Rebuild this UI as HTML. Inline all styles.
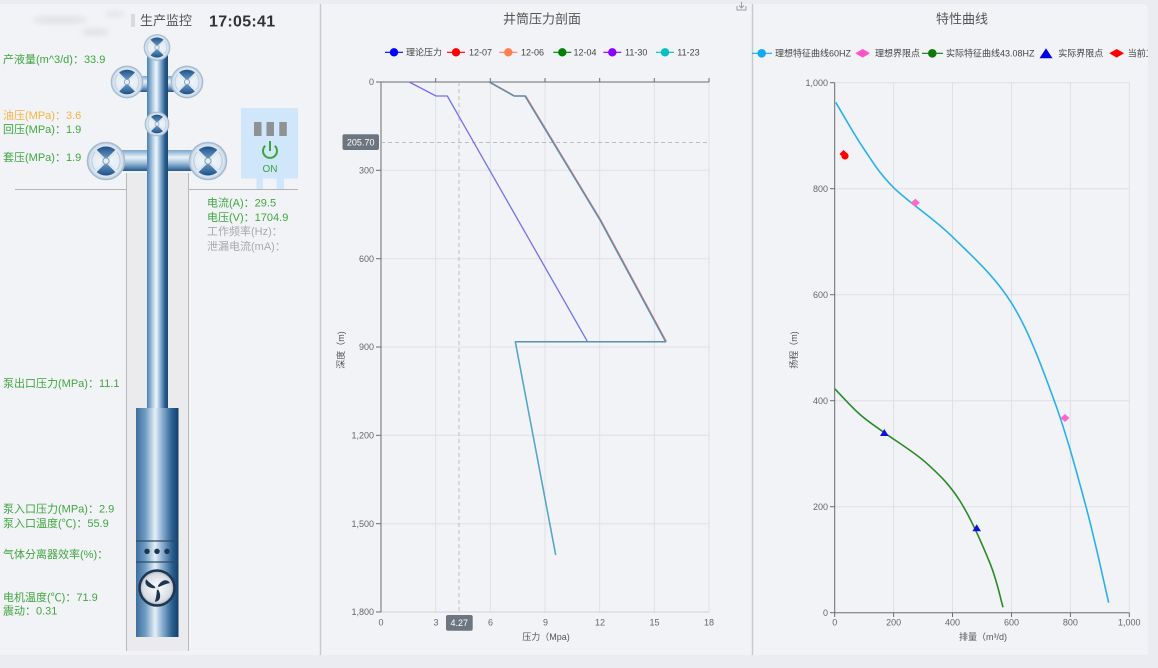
<!DOCTYPE html>
<html>
<head>
<meta charset="utf-8">
<style>
html,body{margin:0;padding:0;background:#eaecf2;}
svg{display:block;font-family:"Liberation Sans","Noto Sans CJK SC",sans-serif;}
</style>
</head>
<body>
<svg width="1158" height="668" viewBox="0 0 1158 668" xmlns="http://www.w3.org/2000/svg">
<defs>
  <linearGradient id="pipeV" x1="0" y1="0" x2="1" y2="0">
    <stop offset="0" stop-color="#4a7eae"/>
    <stop offset="0.28" stop-color="#b4cfe6"/>
    <stop offset="0.45" stop-color="#f0f5fa"/>
    <stop offset="0.62" stop-color="#93b7d8"/>
    <stop offset="0.85" stop-color="#2a5f92"/>
    <stop offset="1" stop-color="#1c4670"/>
  </linearGradient>
  <linearGradient id="pipeH" x1="0" y1="0" x2="0" y2="1">
    <stop offset="0" stop-color="#7aa5cc"/>
    <stop offset="0.35" stop-color="#eaf2f9"/>
    <stop offset="0.6" stop-color="#a5c3de"/>
    <stop offset="1" stop-color="#22598c"/>
  </linearGradient>
  <linearGradient id="pump" x1="0" y1="0" x2="1" y2="0">
    <stop offset="0" stop-color="#3d6e9b"/>
    <stop offset="0.22" stop-color="#6f9cc4"/>
    <stop offset="0.45" stop-color="#e6eff7"/>
    <stop offset="0.6" stop-color="#93b6d5"/>
    <stop offset="0.85" stop-color="#2a5f8f"/>
    <stop offset="1" stop-color="#123f6b"/>
  </linearGradient>
  <radialGradient id="valveBg" cx="0.5" cy="0.5" r="0.5">
    <stop offset="0" stop-color="#f4f8fb"/>
    <stop offset="0.8" stop-color="#e2eaf2"/>
    <stop offset="1" stop-color="#bdd0e2"/>
  </radialGradient>
  <linearGradient id="wedge" x1="0" y1="0" x2="0" y2="1">
    <stop offset="0" stop-color="#1d5288"/>
    <stop offset="1" stop-color="#7aa6cf"/>
  </linearGradient>
  <linearGradient id="wedge2" x1="0" y1="0" x2="0" y2="1">
    <stop offset="0" stop-color="#7aa6cf"/>
    <stop offset="1" stop-color="#1d5288"/>
  </linearGradient>
  <radialGradient id="fanBg" cx="0.5" cy="0.5" r="0.5">
    <stop offset="0" stop-color="#ffffff"/>
    <stop offset="0.8" stop-color="#d7dde3"/>
    <stop offset="1" stop-color="#9aa6b2"/>
  </radialGradient>
  <symbol id="valve" viewBox="-20 -20 40 40">
    <circle cx="0" cy="0" r="19" fill="url(#valveBg)" stroke="#a5bcd0" stroke-width="1.6"/>
    <circle cx="0" cy="0" r="14.5" fill="none" stroke="#bccdde" stroke-width="1.2"/>
    <path d="M-10.5,-10.5 A14.8,14.8 0 0 1 10.5,-10.5 L0,0 Z" fill="url(#wedge)"/>
    <path d="M-10.5,10.5 A14.8,14.8 0 0 0 10.5,10.5 L0,0 Z" fill="url(#wedge2)"/>
    <line x1="-11" y1="-11" x2="11" y2="11" stroke="#dce7f1" stroke-width="2.6"/>
    <line x1="11" y1="-11" x2="-11" y2="11" stroke="#dce7f1" stroke-width="2.6"/>
    <circle cx="0" cy="0" r="3.2" fill="#e6eef5" stroke="#7a9bb9" stroke-width="1"/>
  </symbol>
  <filter id="blur" x="-50%" y="-50%" width="200%" height="200%"><feGaussianBlur stdDeviation="3"/></filter>
  <clipPath id="rightClip"><rect x="752" y="0" width="396" height="668"/></clipPath>
</defs>

<!-- background panels -->
<rect x="0" y="0" width="1158" height="668" fill="#eaecf2"/>
<rect x="0" y="4" width="320" height="651" fill="#f2f3f7"/>
<rect x="320" y="4" width="432" height="651" fill="#f2f3f7"/>
<path d="M752,4 H1142 Q1148,4 1148,10 V655 H752 Z" fill="#f2f3f7"/>
<line x1="320.5" y1="4" x2="320.5" y2="655" stroke="#c9cacf" stroke-width="1.5"/>
<line x1="752.5" y1="4" x2="752.5" y2="655" stroke="#c9cacf" stroke-width="1.5"/>

<!-- ================= LEFT PANEL ================= -->
<g filter="url(#blur)" opacity="0.55">
  <ellipse cx="60" cy="20" rx="28" ry="4" fill="#d2d4d9"/>
  <ellipse cx="95" cy="32" rx="14" ry="3" fill="#c9ccd2"/>
  <ellipse cx="115" cy="14" rx="10" ry="3" fill="#d4d6db"/>
</g>
<rect x="131" y="14" width="4" height="13" fill="#d8dadf"/>
<text x="140" y="25" font-size="13" fill="#555">生产监控</text>
<text x="209" y="26.5" font-size="16" font-weight="bold" fill="#333" letter-spacing="0.3">17:05:41</text>

<!-- ground line -->
<line x1="15" y1="189.5" x2="126" y2="189.5" stroke="#b3b5ba" stroke-width="1"/>
<line x1="188.5" y1="189.5" x2="298" y2="189.5" stroke="#b3b5ba" stroke-width="1"/>

<!-- casing -->
<rect x="126" y="173" width="62.5" height="478" fill="#ebebee"/>
<line x1="126.5" y1="173" x2="126.5" y2="651" stroke="#b8babe" stroke-width="1"/>
<line x1="188.5" y1="173" x2="188.5" y2="651" stroke="#b8babe" stroke-width="1"/>

<!-- pipes -->
<rect x="127" y="76" width="60" height="16" fill="url(#pipeH)"/>
<rect x="106" y="150" width="102" height="21" fill="url(#pipeH)"/>
<rect x="147" y="45" width="21" height="364" fill="url(#pipeV)"/>

<!-- valves -->
<use href="#valve" x="143.5" y="34" width="27" height="27"/>
<use href="#valve" x="110.5" y="65.5" width="33" height="33"/>
<use href="#valve" x="170.5" y="65.5" width="33" height="33"/>
<use href="#valve" x="144.5" y="111.5" width="25" height="25"/>
<use href="#valve" x="86.5" y="141.5" width="39" height="39"/>
<use href="#valve" x="188.5" y="141.5" width="39" height="39"/>

<!-- pump -->
<rect x="136" y="408" width="42.5" height="229" fill="url(#pump)"/>
<line x1="136" y1="541" x2="178.5" y2="541" stroke="#2b4a66" stroke-width="1.2"/>
<line x1="136" y1="562" x2="178.5" y2="562" stroke="#2b4a66" stroke-width="1.2"/>
<circle cx="147" cy="551.3" r="2.7" fill="#1c3550"/>
<circle cx="157" cy="551.3" r="2.7" fill="#1c3550"/>
<circle cx="167" cy="551.3" r="2.7" fill="#1c3550"/>
<circle cx="157" cy="588" r="17.5" fill="url(#fanBg)" stroke="#1f3550" stroke-width="2.5"/>
<g transform="translate(157,588)" fill="#1f3550">
  <path d="M0,0 C2,-6 9,-11 13,-5 C8,-4 4,-2 0,0 Z"/>
  <path d="M0,0 C2,-6 9,-11 13,-5 C8,-4 4,-2 0,0 Z" transform="rotate(120)"/>
  <path d="M0,0 C2,-6 9,-11 13,-5 C8,-4 4,-2 0,0 Z" transform="rotate(240)"/>
  <circle cx="0" cy="0" r="2" fill="#dfe4ea"/>
</g>

<!-- power box -->
<rect x="241" y="108" width="57" height="70.5" fill="#cfe6fb"/>
<rect x="256.5" y="178" width="6.5" height="11" fill="#cfe6fb"/>
<rect x="276.5" y="178" width="7.5" height="11" fill="#cfe6fb"/>
<rect x="254" y="122" width="7.5" height="14" fill="#8f9294"/>
<rect x="266.5" y="122" width="7.5" height="14" fill="#8f9294"/>
<rect x="279.3" y="122" width="7.5" height="14" fill="#8f9294"/>
<path d="M265.2,145.8 A7,7 0 1 0 274.8,145.8" fill="none" stroke="#3aa53a" stroke-width="2"/>
<line x1="270" y1="141" x2="270" y2="151" stroke="#3aa53a" stroke-width="2"/>
<text x="270" y="172" font-size="10" fill="#3aa53a" text-anchor="middle">ON</text>

<!-- left texts -->
<g font-size="11" fill="#3fa63f">
  <text x="3" y="63">产液量(m^3/d)：33.9</text>
  <text x="3" y="119" fill="#f3b540">油压(MPa)：3.6</text>
  <text x="3" y="133">回压(MPa)：1.9</text>
  <text x="3" y="161">套压(MPa)：1.9</text>
  <text x="207" y="206.5">电流(A)：29.5</text>
  <text x="207" y="221">电压(V)：1704.9</text>
  <text x="207" y="235" fill="#a9a9ab">工作频率(Hz)：</text>
  <text x="207" y="250" fill="#a9a9ab">泄漏电流(mA)：</text>
  <text x="3" y="387">泵出口压力(MPa)：11.1</text>
  <text x="3" y="512.5">泵入口压力(MPa)：2.9</text>
  <text x="3" y="527">泵入口温度(℃)：55.9</text>
  <text x="3" y="558">气体分离器效率(%)：</text>
  <text x="3" y="601">电机温度(℃)：71.9</text>
  <text x="3" y="614.5">震动：0.31</text>
</g>

<!-- ================= MIDDLE CHART ================= -->
<text x="542" y="23.5" font-size="13" fill="#555" text-anchor="middle">井筒压力剖面</text>
<g stroke="#9a9ca0" stroke-width="1" fill="none">
  <path d="M737,6 V10 H746 V6"/>
  <path d="M741.5,2 V8 M739,5.5 L741.5,8 L744,5.5"/>
</g>

<!-- legend -->
<g font-size="9" fill="#444">
  <line x1="385" y1="52.3" x2="403" y2="52.3" stroke="#0000ff" stroke-width="1.2"/>
  <circle cx="394" cy="52.3" r="4.2" fill="#0000ff"/>
  <text x="406" y="55.5">理论压力</text>
  <line x1="447" y1="52.3" x2="465" y2="52.3" stroke="#ff0000" stroke-width="1.2"/>
  <circle cx="456" cy="52.3" r="4.2" fill="#ff0000"/>
  <text x="469" y="55.5">12-07</text>
  <line x1="499.3" y1="52.3" x2="517.3" y2="52.3" stroke="#ff7f50" stroke-width="1.2"/>
  <circle cx="508.3" cy="52.3" r="4.2" fill="#ff7f50"/>
  <text x="521" y="55.5">12-06</text>
  <line x1="553.3" y1="52.3" x2="571.3" y2="52.3" stroke="#008000" stroke-width="1.2"/>
  <circle cx="562.3" cy="52.3" r="4.2" fill="#008000"/>
  <text x="573.5" y="55.5">12-04</text>
  <line x1="603.3" y1="52.3" x2="621.3" y2="52.3" stroke="#8a00ff" stroke-width="1.2"/>
  <circle cx="612.3" cy="52.3" r="4.2" fill="#8a00ff"/>
  <text x="625" y="55.5">11-30</text>
  <line x1="656" y1="52.3" x2="674" y2="52.3" stroke="#00c0c0" stroke-width="1.2"/>
  <circle cx="665" cy="52.3" r="4.2" fill="#00c0c0"/>
  <text x="677.3" y="55.5">11-23</text>
</g>

<!-- grid -->
<g stroke="#dfe0e6" stroke-width="1">
  <line x1="435.7" y1="82" x2="435.7" y2="612"/>
  <line x1="490.3" y1="82" x2="490.3" y2="612"/>
  <line x1="545" y1="82" x2="545" y2="612"/>
  <line x1="599.7" y1="82" x2="599.7" y2="612"/>
  <line x1="654.3" y1="82" x2="654.3" y2="612"/>
  <line x1="709" y1="82" x2="709" y2="612"/>
  <line x1="381" y1="170.3" x2="709" y2="170.3"/>
  <line x1="381" y1="258.7" x2="709" y2="258.7"/>
  <line x1="381" y1="347" x2="709" y2="347"/>
  <line x1="381" y1="435.3" x2="709" y2="435.3"/>
  <line x1="381" y1="523.7" x2="709" y2="523.7"/>
  <line x1="381" y1="612" x2="709" y2="612" stroke="#d0d1d6"/>
</g>
<line x1="381" y1="82" x2="709" y2="82" stroke="#6a6c70" stroke-width="1"/>
<line x1="381" y1="82" x2="381" y2="612" stroke="#6a6c70" stroke-width="1"/>
<g stroke="#6a6c70" stroke-width="1">
  <line x1="376" y1="82" x2="381" y2="82"/>
  <line x1="376" y1="170.3" x2="381" y2="170.3"/>
  <line x1="376" y1="258.7" x2="381" y2="258.7"/>
  <line x1="376" y1="347" x2="381" y2="347"/>
  <line x1="376" y1="435.3" x2="381" y2="435.3"/>
  <line x1="376" y1="523.7" x2="381" y2="523.7"/>
  <line x1="376" y1="612" x2="381" y2="612"/>
  <line x1="435.7" y1="78" x2="435.7" y2="82"/>
  <line x1="490.3" y1="78" x2="490.3" y2="82"/>
  <line x1="545" y1="78" x2="545" y2="82"/>
  <line x1="599.7" y1="78" x2="599.7" y2="82"/>
  <line x1="654.3" y1="78" x2="654.3" y2="82"/>
  <line x1="709" y1="78" x2="709" y2="82"/>
</g>
<g font-size="9" fill="#666" text-anchor="end">
  <text x="374" y="85">0</text>
  <text x="374" y="173.5">300</text>
  <text x="374" y="262">600</text>
  <text x="374" y="350">900</text>
  <text x="374" y="438.5">1,200</text>
  <text x="374" y="527">1,500</text>
  <text x="374" y="615">1,800</text>
</g>
<g font-size="9" fill="#666" text-anchor="middle">
  <text x="381" y="625.5">0</text>
  <text x="436" y="625.5">3</text>
  <text x="490.5" y="625.5">6</text>
  <text x="545.5" y="625.5">9</text>
  <text x="600" y="625.5">12</text>
  <text x="654.5" y="625.5">15</text>
  <text x="709" y="625.5">18</text>
</g>
<text x="546" y="640" font-size="9" fill="#555" text-anchor="middle">压力（Mpa)</text>
<text x="344" y="350" font-size="9" fill="#555" text-anchor="middle" transform="rotate(-90,344,350)">深度（m)</text>

<!-- crosshair -->
<line x1="381" y1="142.5" x2="709" y2="142.5" stroke="#bdbec3" stroke-width="1" stroke-dasharray="4,3"/>
<line x1="459" y1="82" x2="459" y2="612" stroke="#bdbec3" stroke-width="1" stroke-dasharray="4,3"/>

<!-- series -->
<path d="M409.2,82 L436,96 L447.3,96 L587.5,341.7 L515.3,341.7" fill="none" stroke="#7171ee" stroke-width="1.3" stroke-linejoin="round"/>
<path d="M489.9,82 L514.8,96 L525.8,96 L600.8,220 L666.4,341.7" fill="none" stroke="#ef6a6a" stroke-width="1.2" stroke-linejoin="round"/>
<path d="M489.1,82 L514,96 L525,96 L600,220 L665.6,341.7 L515.3,341.7 L555.7,555" fill="none" stroke="#5992ad" stroke-width="1.5" stroke-linejoin="round"/>
<path d="M515.3,341.7 L555.7,555" fill="none" stroke="#43b6d8" stroke-width="0.7"/>

<rect x="342.5" y="134.3" width="36.5" height="15.7" rx="2" fill="#6d7680"/>
<text x="360.7" y="145.5" font-size="9" fill="#fff" text-anchor="middle">205.70</text>
<rect x="446" y="615" width="26.7" height="15.7" rx="2" fill="#6d7680"/>
<text x="459.3" y="626" font-size="9" fill="#fff" text-anchor="middle">4.27</text>

<!-- ================= RIGHT CHART ================= -->
<g clip-path="url(#rightClip)">
<text x="962" y="23.5" font-size="13" fill="#555" text-anchor="middle">特性曲线</text>

<g font-size="9" fill="#444">
  <line x1="752" y1="53.3" x2="772" y2="53.3" stroke="#12a8f5" stroke-width="1.2"/>
  <circle cx="761.7" cy="53.3" r="4.3" fill="#12a8f5"/>
  <text x="775" y="56.5">理想特征曲线60HZ</text>
  <path d="M855.3,53.3 L862.7,49 L870,53.3 L862.7,57.6 Z" fill="#ff52c8"/>
  <text x="875" y="56.5">理想界限点</text>
  <line x1="922" y1="53.3" x2="943" y2="53.3" stroke="#0b7a0b" stroke-width="1.2"/>
  <circle cx="932.3" cy="53.3" r="4.3" fill="#0b7a0b"/>
  <text x="946" y="56.5">实际特征曲线43.08HZ</text>
  <path d="M1039.5,58.3 L1046,48.3 L1052.5,58.3 Z" fill="#0000e6"/>
  <text x="1058.3" y="56.5">实际界限点</text>
  <path d="M1109.3,53.3 L1116.7,49 L1124,53.3 L1116.7,57.6 Z" fill="#ff0000"/>
  <text x="1127.7" y="56.5">当前工况点</text>
</g>

<g stroke="#dfe0e6" stroke-width="1">
  <line x1="893.6" y1="82.7" x2="893.6" y2="612.7"/>
  <line x1="952.5" y1="82.7" x2="952.5" y2="612.7"/>
  <line x1="1011.5" y1="82.7" x2="1011.5" y2="612.7"/>
  <line x1="1070.4" y1="82.7" x2="1070.4" y2="612.7"/>
  <line x1="1129.3" y1="82.7" x2="1129.3" y2="612.7"/>
  <line x1="834.7" y1="82.7" x2="1129.3" y2="82.7"/>
  <line x1="834.7" y1="188.7" x2="1129.3" y2="188.7"/>
  <line x1="834.7" y1="294.7" x2="1129.3" y2="294.7"/>
  <line x1="834.7" y1="400.7" x2="1129.3" y2="400.7"/>
  <line x1="834.7" y1="506.7" x2="1129.3" y2="506.7"/>
</g>
<line x1="834.7" y1="82.7" x2="834.7" y2="612.7" stroke="#6a6c70" stroke-width="1"/>
<line x1="834.7" y1="612.7" x2="1129.3" y2="612.7" stroke="#6a6c70" stroke-width="1"/>
<g stroke="#6a6c70" stroke-width="1">
  <line x1="830" y1="82.7" x2="834.7" y2="82.7"/>
  <line x1="830" y1="188.7" x2="834.7" y2="188.7"/>
  <line x1="830" y1="294.7" x2="834.7" y2="294.7"/>
  <line x1="830" y1="400.7" x2="834.7" y2="400.7"/>
  <line x1="830" y1="506.7" x2="834.7" y2="506.7"/>
  <line x1="830" y1="612.7" x2="834.7" y2="612.7"/>
  <line x1="834.7" y1="612.7" x2="834.7" y2="617"/>
  <line x1="893.6" y1="612.7" x2="893.6" y2="617"/>
  <line x1="952.5" y1="612.7" x2="952.5" y2="617"/>
  <line x1="1011.5" y1="612.7" x2="1011.5" y2="617"/>
  <line x1="1070.4" y1="612.7" x2="1070.4" y2="617"/>
  <line x1="1129.3" y1="612.7" x2="1129.3" y2="617"/>
</g>
<g font-size="9" fill="#666" text-anchor="end">
  <text x="828" y="86">1,000</text>
  <text x="828" y="192">800</text>
  <text x="828" y="298">600</text>
  <text x="828" y="404">400</text>
  <text x="828" y="510">200</text>
  <text x="828" y="616">0</text>
</g>
<g font-size="9" fill="#666" text-anchor="middle">
  <text x="834.7" y="625.5">0</text>
  <text x="893.6" y="625.5">200</text>
  <text x="952.5" y="625.5">400</text>
  <text x="1011.5" y="625.5">600</text>
  <text x="1070.4" y="625.5">800</text>
  <text x="1129.3" y="625.5">1,000</text>
</g>
<text x="983" y="640" font-size="9" fill="#555" text-anchor="middle">排量（m³/d)</text>
<text x="797" y="350" font-size="9" fill="#555" text-anchor="middle" transform="rotate(-90,797,350)">扬程（m)</text>

<!-- ideal curve (smooth) -->
<path fill="none" stroke="#29b0ec" stroke-width="1.6" d="M835.7,102.3 C840.3,109.9 853.7,133.8 863.3,148 C872.9,162.2 878.5,172.5 893.3,187.3 C908.1,202.1 932.6,217.4 952.3,236.7 C972,256 994.75,276.1 1011.7,303.3 C1028.65,330.5 1041.6,366.1 1054,400 C1066.4,433.9 1076.9,472.9 1086,506.7 C1095.1,540.5 1104.9,586.7 1108.7,602.7"/>
<!-- actual curve (smooth) -->
<path fill="none" stroke="#2a8a2a" stroke-width="1.6" d="M834.7,388.7 C838.9,393 851.7,407.2 860,414.5 C868.3,421.8 873.2,424.6 884.3,432.7 C895.4,440.8 914.1,451.9 926.7,463.3 C939.3,474.7 949.45,484.3 960,501 C970.55,517.7 982.8,545.6 990,563.3 C997.2,581 1000.8,600 1003,607.3"/>

<!-- markers -->
<path d="M910.8,202.7 L915.3,198.7 L919.8,202.7 L915.3,206.7 Z" fill="#ff66cc"/>
<path d="M1060.5,418 L1065,414 L1069.5,418 L1065,422 Z" fill="#ff66cc"/>
<path d="M880,436 L884.3,429 L888.6,436 Z" fill="#1010e0"/>
<path d="M972.4,531.3 L976.7,524.3 L981,531.3 Z" fill="#1010e0"/>
<path d="M839.5,154 L843.6,150 L847.7,154 L843.6,158 Z" fill="#ff0000"/>
<circle cx="845" cy="156" r="3.6" fill="#ff0000"/>
</g>
</svg>
</body>
</html>
